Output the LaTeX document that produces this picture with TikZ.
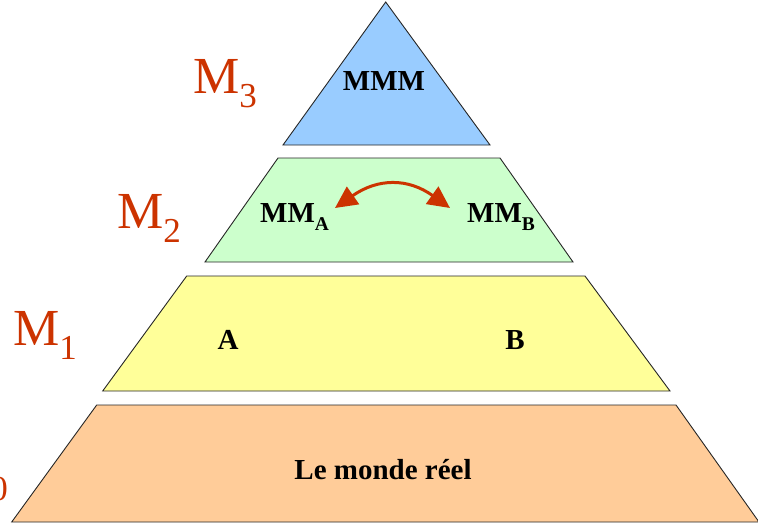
\documentclass[tikz,border=0pt]{standalone}
\usepackage{fontspec}
\setmainfont{Liberation Serif}
\usetikzlibrary{arrows.meta}
\definecolor{lvred}{RGB}{204,51,0}
\definecolor{lvblue}{RGB}{153,204,255}
\definecolor{lvgreen}{RGB}{204,255,204}
\definecolor{lvyellow}{RGB}{255,255,153}
\definecolor{lvorange}{RGB}{255,204,153}
\newcommand{\lvlabel}[1]{{\fontsize{52}{52}\selectfont M\raisebox{-14pt}{\fontsize{35}{35}\selectfont #1}}}
\tikzset{
  layer/.style={draw=black!85, line width=0.9pt, line join=miter},
  lvl/.style={text=lvred, anchor=base west, inner sep=0pt},
  bold/.style={font=\fontsize{29}{29}\selectfont\bfseries, inner sep=0pt, text=black},
}
\begin{document}
\begin{tikzpicture}[x=1pt,y=-1pt]
\useasboundingbox (0,0) rectangle (758,525);
\clip (0,0) rectangle (758,525);
% layers
\draw[layer, fill=lvblue] (385.7,2) -- (490,145) -- (283,145) -- cycle;
\draw[layer, fill=lvgreen] (278,158) -- (500,158) -- (573,262) -- (205,262) -- cycle;
\draw[layer, fill=lvyellow] (186.7,276) -- (585,276) -- (670,391) -- (102.7,391) -- cycle;
\draw[layer, fill=lvorange] (96.7,405) -- (676,405) -- (759,522) -- (11.7,522) -- cycle;
% level labels
\node[lvl] (m3) at (193,93) {\lvlabel{3}};
\node[lvl] (m2) at (117,228) {\lvlabel{2}};
\node[lvl] (m1) at (13,345) {\lvlabel{1}};
\node[lvl] (m0) at (-56,486) {\lvlabel{0}};
% texts
\node[bold, anchor=base] (mmm) at (384,90) {MMM};
\node[bold, anchor=base west] (mma) at (260,222) {MM\raisebox{-8pt}{\fontsize{19.5}{19.5}\selectfont\bfseries A}};
\node[bold, anchor=base west] (mmb) at (467,222) {MM\raisebox{-8pt}{\fontsize{19.5}{19.5}\selectfont\bfseries B}};
\node[bold, anchor=base] (a) at (228,349) {A};
\node[bold, anchor=base] (b) at (515,349) {B};
\node[bold, anchor=base] (monde) at (383,479) {Le monde réel};
% arrow
\coordinate (arrL) at (335,208);
\coordinate (arrR) at (450,208);
\draw[lvred, line width=3pt, {Triangle[length=22pt,width=21pt]}-{Triangle[length=22pt,width=21pt]}]
  (arrL) .. controls (378,178) and (408,178) .. (arrR);
\end{tikzpicture}
\end{document}
